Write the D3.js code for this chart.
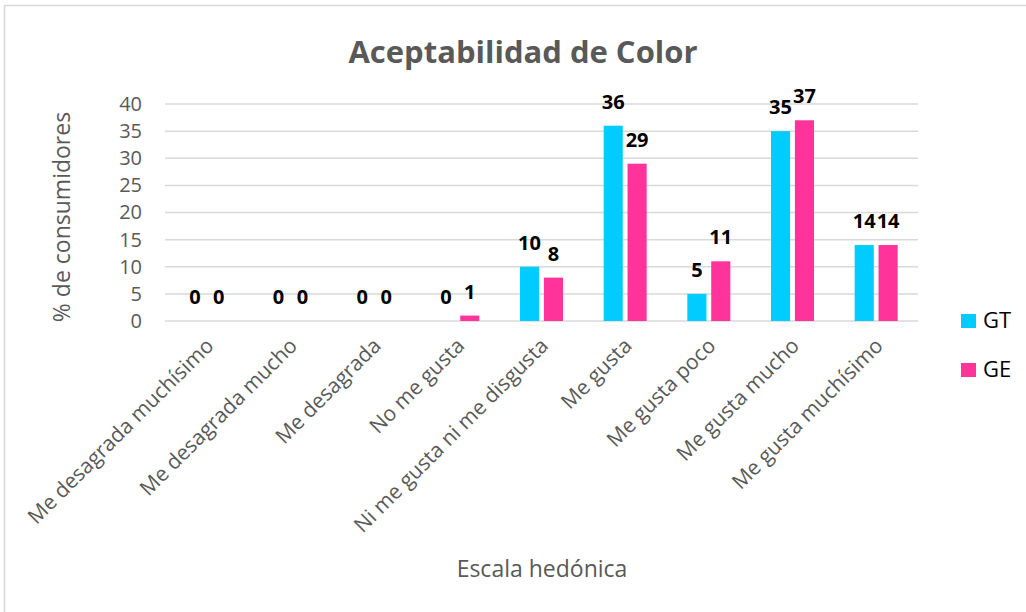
<!DOCTYPE html>
<html lang="es">
<head>
<meta charset="utf-8">
<script src="https://cdn.jsdelivr.net/npm/d3@7"></script>
<style>
  body { margin: 0; background: #fff; }
  svg { font-family: "Open Sans", sans-serif; }
</style>
</head>
<body>
<div id="chart"></div>
<script>
// data
const categories = ["Me desagrada muchísimo", "Me desagrada mucho", "Me desagrada", "No me gusta",
  "Ni me gusta ni me disgusta", "Me gusta", "Me gusta poco", "Me gusta mucho", "Me gusta muchísimo"];
const seriesNames = ["GT", "GE"];
const gtValues = [0, 0, 0, 0, 10, 36, 5, 35, 14];
const geValues = [0, 0, 0, 1, 8, 29, 11, 37, 14];
const yTicks = [0, 5, 10, 15, 20, 25, 30, 35, 40];
const colors = ["#00CCFF", "#FF3399"];

const W = 1026, H = 612;
const plot = { left: 165, right: 918, top: 104, bottom: 321 };

const svg = d3.select("#chart").append("svg")
  .attr("width", W).attr("height", H);

// chart frame
svg.append("rect")
  .attr("x", 4.5).attr("y", 5.5)
  .attr("width", 1040).attr("height", 640)
  .attr("fill", "none").attr("stroke", "#d9d9d9").attr("stroke-width", 1.5);

const x0 = d3.scaleBand().domain(categories).range([plot.left, plot.right]).padding(0);
const x1 = d3.scaleBand().domain(seriesNames).range([x0.bandwidth() / 2 - 21.5, x0.bandwidth() / 2 + 21.5])
  .paddingInner(0.2);
const y = d3.scaleLinear().domain([0, 40]).range([plot.bottom, plot.top]);

// gridlines
svg.append("g")
  .selectAll("line").data(yTicks).join("line")
  .attr("x1", plot.left).attr("x2", plot.right)
  .attr("y1", d => y(d)).attr("y2", d => y(d))
  .attr("stroke", "#d9d9d9").attr("stroke-width", 1.5);

// y axis labels
const yAxis = svg.append("g")
  .attr("transform", `translate(${plot.left},0)`)
  .call(d3.axisLeft(y).tickValues(yTicks).tickSize(0).tickPadding(23));
yAxis.select(".domain").remove();
yAxis.selectAll("text")
  .attr("fill", "#595959").style("font-size", "20px").style("font-family", "Open Sans, sans-serif");

// bars
const rows = categories.map((c, i) => ({ cat: c, vals: [gtValues[i], geValues[i]] }));
const groups = svg.append("g").selectAll("g").data(rows).join("g")
  .attr("transform", d => `translate(${x0(d.cat)},0)`);

groups.selectAll("rect")
  .data(d => d.vals.map((v, k) => ({ name: seriesNames[k], v, k })))
  .join("rect")
  .attr("x", d => x1(d.name))
  .attr("y", d => y(d.v))
  .attr("width", x1.bandwidth())
  .attr("height", d => y(0) - y(d.v))
  .attr("fill", d => colors[d.k]);

groups.selectAll("text")
  .data(d => d.vals.map((v, k) => ({ name: seriesNames[k], v, k })))
  .join("text")
  .attr("x", d => x1(d.name) + x1.bandwidth() / 2)
  .attr("y", d => y(d.v) - 17)
  .attr("text-anchor", "middle")
  .style("font-size", "20px").style("font-weight", "bold")
  .attr("fill", "#000")
  .text(d => d.v);

// x axis labels, rotated
svg.append("g").selectAll("text").data(categories).join("text")
  .attr("transform", d => `translate(${x0(d) + x0.bandwidth() / 2 + 8},${plot.bottom + 26}) rotate(-45)`)
  .attr("text-anchor", "end")
  .attr("fill", "#595959")
  .style("font-size", "21px")
  .text(d => d);

// title
svg.append("text")
  .attr("x", 523).attr("y", 63)
  .attr("text-anchor", "middle")
  .attr("fill", "#595959")
  .style("font-size", "31px").style("font-weight", "bold")
  .text("Aceptabilidad de Color");

// axis titles
svg.append("text")
  .attr("transform", `translate(70,217) rotate(-90)`)
  .attr("text-anchor", "middle")
  .attr("fill", "#595959")
  .style("font-size", "23px")
  .text("% de consumidores");

svg.append("text")
  .attr("x", 542).attr("y", 577)
  .attr("text-anchor", "middle")
  .attr("fill", "#595959")
  .style("font-size", "23px")
  .text("Escala hedónica");

// legend
const legend = svg.append("g").selectAll("g").data(seriesNames).join("g")
  .attr("transform", (d, i) => `translate(961,${314 + i * 49})`);
legend.append("rect").attr("width", 15).attr("height", 14).attr("fill", (d, i) => colors[i]);
legend.append("text").attr("x", 22).attr("y", 14)
  .attr("fill", "#000").style("font-size", "22px").text(d => d);
</script>
</body>
</html>
